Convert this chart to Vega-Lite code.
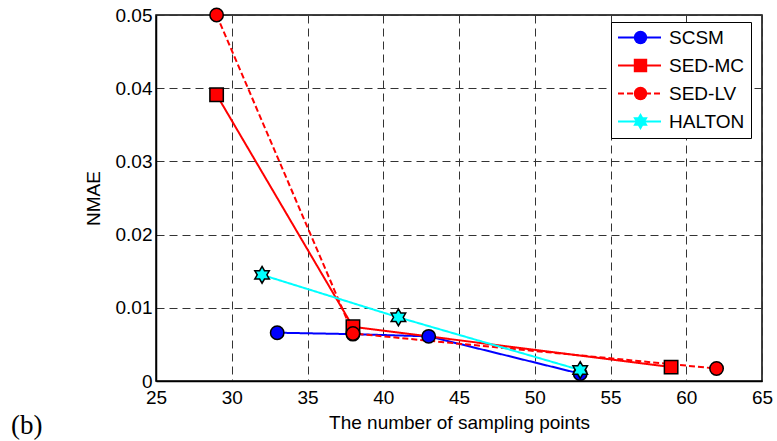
{
  "$schema": "https://vega.github.io/schema/vega-lite/v6.json",
  "width": 606,
  "height": 366,
  "autosize": {"type": "none"},
  "padding": {"left": 156, "top": 15, "right": 15, "bottom": 60},
  "background": "white",
  "title": {"text": "(b)", "orient": "bottom", "anchor": "start", "frame": "group", "font": "Liberation Serif", "fontSize": 27, "fontWeight": "normal", "color": "black", "dx": -145, "dy": -23},
  "config": {"view": {"stroke": "black", "strokeWidth": 1.5}},
  "data": {"values": [
    {"series": "SCSM", "x": 33, "y": 0.0066},
    {"series": "SCSM", "x": 38, "y": 0.0064},
    {"series": "SCSM", "x": 43, "y": 0.0061},
    {"series": "SCSM", "x": 53, "y": 0.0010},
    {"series": "SED-MC", "x": 29, "y": 0.0391},
    {"series": "SED-MC", "x": 38, "y": 0.0074},
    {"series": "SED-MC", "x": 59, "y": 0.0019},
    {"series": "SED-LV", "x": 29, "y": 0.0500},
    {"series": "SED-LV", "x": 38, "y": 0.0065},
    {"series": "SED-LV", "x": 62, "y": 0.0017},
    {"series": "HALTON", "x": 32, "y": 0.0145},
    {"series": "HALTON", "x": 41, "y": 0.0087},
    {"series": "HALTON", "x": 53, "y": 0.0015}
  ]},
  "encoding": {
    "x": {"field": "x", "type": "quantitative",
      "scale": {"domain": [25, 65], "nice": false, "zero": false},
      "axis": {"title": "The number of sampling points", "values": [25, 30, 35, 40, 45, 50, 55, 60, 65],
        "grid": true, "gridDash": [8, 5], "gridColor": "#333333", "gridWidth": 1,
        "domainColor": "black", "domainWidth": 1.5, "ticks": false, "labelFlush": false, "labelOverlap": false,
        "labelFont": "Liberation Sans", "labelFontSize": 19, "labelColor": "black", "labelPadding": 7,
        "titleFont": "Liberation Sans", "titleFontSize": 19, "titleFontWeight": "normal", "titleColor": "black", "titlePadding": 6}},
    "y": {"field": "y", "type": "quantitative",
      "scale": {"domain": [0, 0.05], "nice": false},
      "axis": {"title": "NMAE", "values": [0, 0.01, 0.02, 0.03, 0.04, 0.05], "format": ".2~f",
        "grid": true, "gridDash": [8, 5], "gridColor": "#333333", "gridWidth": 1,
        "domainColor": "black", "domainWidth": 1.5, "ticks": false, "labelFlush": false, "labelOverlap": false,
        "labelFont": "Liberation Sans", "labelFontSize": 19, "labelColor": "black", "labelPadding": 4,
        "titleFont": "Liberation Sans", "titleFontSize": 19, "titleFontWeight": "normal", "titleColor": "black", "titlePadding": 12}}
  },
  "layer": [
    {
      "mark": {"type": "line", "strokeWidth": 2},
      "encoding": {
        "color": {"field": "series", "type": "nominal",
          "scale": {"domain": ["SCSM", "SED-MC", "SED-LV", "HALTON"], "range": ["#0000ff", "#ff0000", "#ff0000", "#00ffff"]},
          "legend": {"title": null, "orient": "none", "legendX": 455, "legendY": 7,
            "symbolType": "stroke", "symbolSize": 1849, "symbolStrokeWidth": 2, "clipHeight": 19,
            "labelFont": "Liberation Sans", "labelFontSize": 19, "labelColor": "black", "labelOffset": 7,
            "fillColor": "white", "strokeColor": "black", "padding": 6, "rowPadding": 8, "zindex": 1}},
        "strokeDash": {"field": "series", "type": "nominal",
          "scale": {"domain": ["SCSM", "SED-MC", "SED-LV", "HALTON"], "range": [[1, 0], [1, 0], [6, 3], [1, 0]]}}
      }
    },
    {
      "mark": {"type": "point", "filled": true, "stroke": "black", "strokeWidth": 1.5, "size": 180, "opacity": 1},
      "encoding": {
        "shape": {"field": "series", "type": "nominal", "sort": null,
          "scale": {"range": ["circle", "square", "circle", "M0,-1.25L0.361,-0.625L1.083,-0.625L0.722,0L1.083,0.625L0.361,0.625L0,1.25L-0.361,0.625L-1.083,0.625L-0.722,0L-1.083,-0.625L-0.361,-0.625Z"]},
          "legend": {"title": null, "orient": "none", "legendX": 469, "legendY": 7,
            "symbolSize": 180, "symbolStrokeColor": "black", "symbolStrokeWidth": 1.5, "clipHeight": 19,
            "labelFont": "Liberation Sans", "labelFontSize": 19, "labelExpr": "''",
            "padding": 6, "rowPadding": 8, "zindex": 2}},
        "fill": {"field": "series", "type": "nominal", "sort": null,
          "scale": {"range": ["#0000ff", "#ff0000", "#ff0000", "#00ffff"]}}
      }
    }
  ]
}
